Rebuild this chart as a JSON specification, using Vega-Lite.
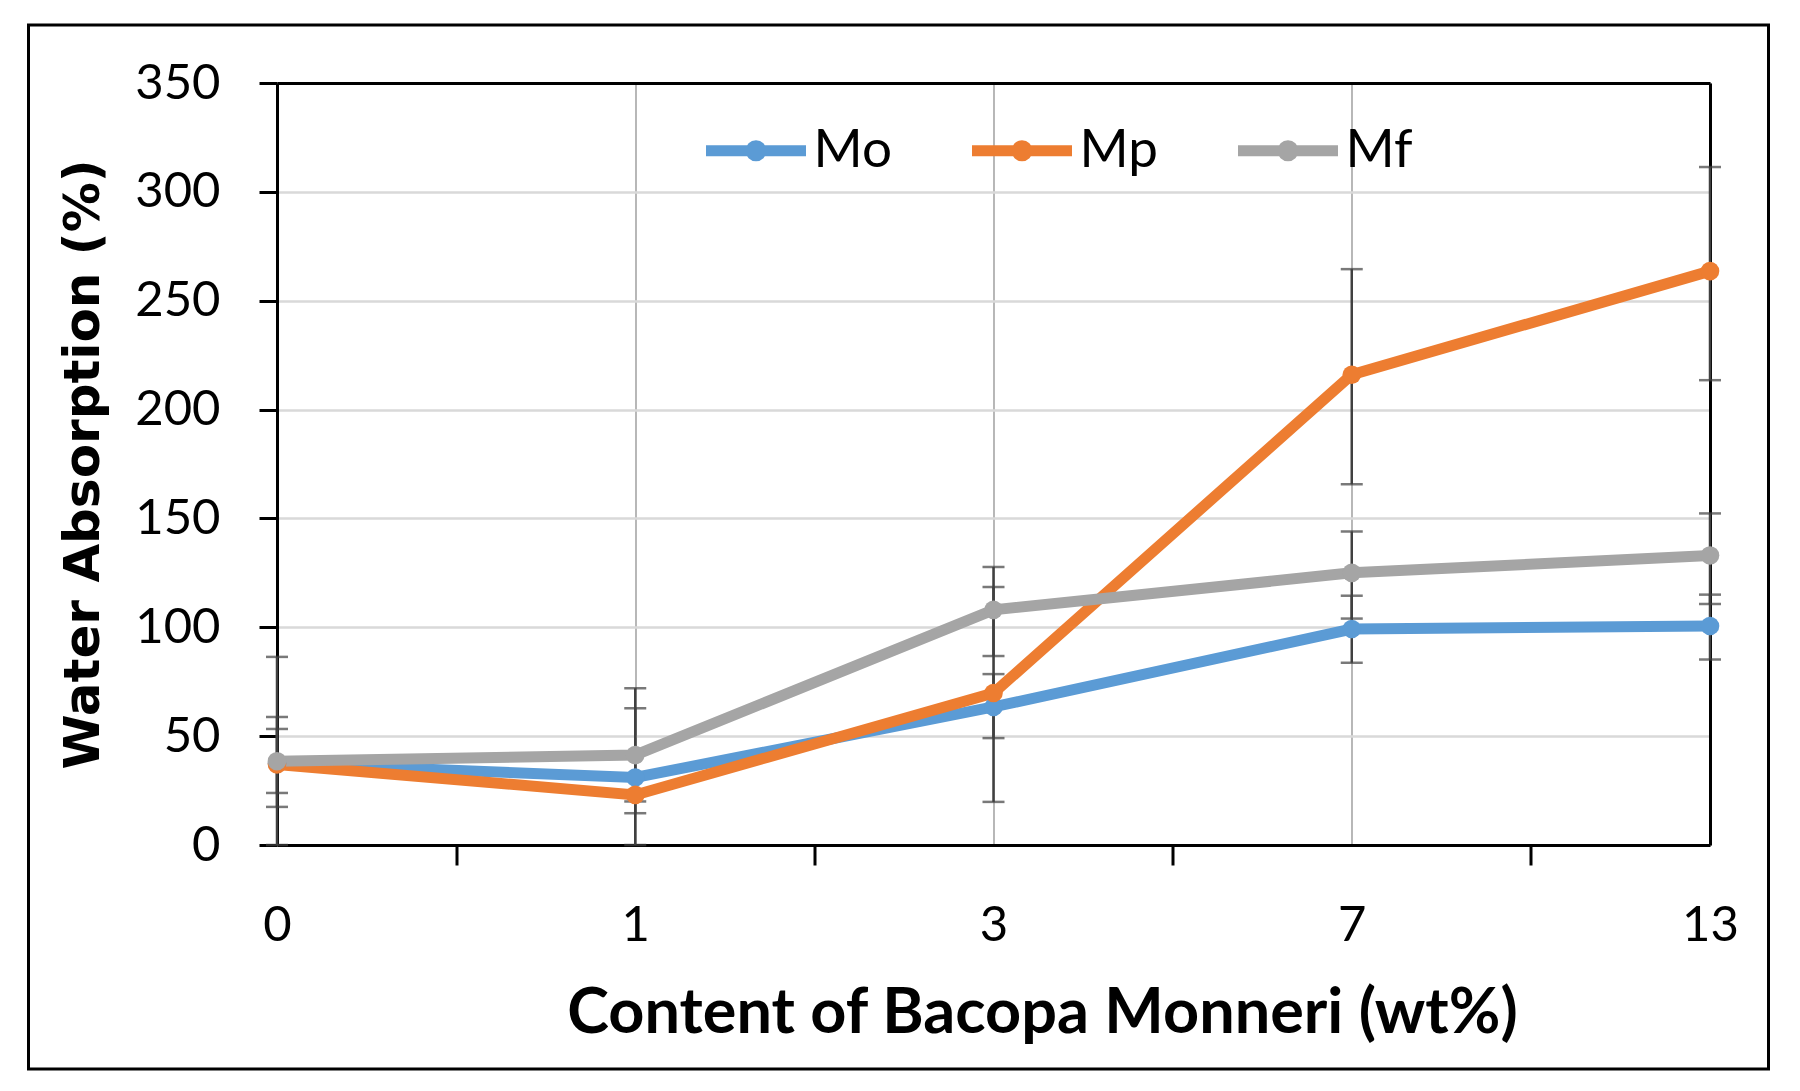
{
  "$schema": "https://vega.github.io/schema/vega-lite/v6.json",
  "width": 1740,
  "height": 1044,
  "autosize": {"type": "none"},
  "padding": {"left": 28.5, "top": 25, "right": 31.5, "bottom": 22},
  "background": "white",
  "config": {
    "view": {"stroke": "#000", "strokeWidth": 3},
    "axis": {"labelFont": "Lato", "labelFontSize": 49, "labelColor": "#000", "titleColor": "#000"}
  },
  "data": {
    "values": [
      {"series": "Mo", "wt": "0", "value": 37.5, "hi": 53.3, "lo": 23.9},
      {"series": "Mo", "wt": "1", "value": 31, "hi": 72, "lo": 0},
      {"series": "Mo", "wt": "3", "value": 63.4, "hi": 78.5, "lo": 49.1},
      {"series": "Mo", "wt": "7", "value": 99.2, "hi": 114.5, "lo": 83.7},
      {"series": "Mo", "wt": "13", "value": 100.6, "hi": 115, "lo": 85.2},
      {"series": "Mp", "wt": "0", "value": 37, "hi": 58.8, "lo": 17.5},
      {"series": "Mp", "wt": "1", "value": 23, "hi": 31.5, "lo": 14.6},
      {"series": "Mp", "wt": "3", "value": 69.8, "hi": 118.5, "lo": 19.8},
      {"series": "Mp", "wt": "7", "value": 216, "hi": 264.5, "lo": 165.7},
      {"series": "Mp", "wt": "13", "value": 263.6, "hi": 311.4, "lo": 213.5},
      {"series": "Mf", "wt": "0", "value": 38.5, "hi": 86.4, "lo": 0},
      {"series": "Mf", "wt": "1", "value": 41.3, "hi": 62.8, "lo": 20},
      {"series": "Mf", "wt": "3", "value": 108, "hi": 127.7, "lo": 86.8},
      {"series": "Mf", "wt": "7", "value": 125, "hi": 144, "lo": 104},
      {"series": "Mf", "wt": "13", "value": 133, "hi": 152.3, "lo": 110.7}
    ]
  },
  "resolve": {
    "scale": {"x": "shared", "y": "shared"},
    "axis": {"x": "independent", "y": "independent"}
  },
  "layer": [
    {
      "mark": {"type": "rule", "color": "#404040", "strokeWidth": 2.5},
      "encoding": {
        "x": {
          "field": "wt", "type": "ordinal",
          "scale": {"type": "point", "domain": ["0", "1", "3", "7", "13"], "range": [248.5, 1681.5], "padding": 0},
          "axis": {
            "title": "Content of Bacopa Monneri (wt%)", "orient": "bottom", "offset": -224,
            "labelAngle": 0, "ticks": false, "labelPadding": 56, "grid": false,
            "domainColor": "#000", "domainWidth": 3,
            "titleFont": "Lato", "titleFontSize": 63, "titleFontWeight": "bold",
            "titleX": 1013.5, "titleY": 187, "titleBaseline": "alphabetic"
          }
        },
        "y": {
          "field": "lo", "type": "quantitative",
          "scale": {"domain": [0, 350], "range": [820, 58], "nice": false},
          "axis": {
            "title": "Water Absorption (%)", "orient": "left", "offset": -248.5,
            "values": [0, 50, 100, 150, 200, 250, 300, 350],
            "tickSize": 18, "tickWidth": 3, "tickColor": "#000",
            "domainColor": "#000", "domainWidth": 3, "labelPadding": 39,
            "grid": true, "gridColor": "#d9d9d9", "gridWidth": 2.3,
            "titleFont": "DejaVu Sans", "titleFontSize": 50, "titleFontWeight": "bold", "titlePadding": 26
          }
        },
        "y2": {"field": "hi"}
      }
    },
    {
      "mark": {"type": "tick", "color": "#404040", "thickness": 2.5, "size": 22},
      "encoding": {
        "x": {
          "field": "wt", "type": "ordinal",
          "axis": {"orient": "top", "offset": -58, "labels": false, "ticks": false, "title": null, "domainColor": "#000", "domainWidth": 3, "grid": true, "gridColor": "#a6a6a6", "gridWidth": 1.6}
        },
        "y": {"field": "lo", "type": "quantitative", "axis": null}
      }
    },
    {
      "mark": {"type": "tick", "color": "#404040", "thickness": 2.5, "size": 22},
      "encoding": {
        "x": {"field": "wt", "type": "ordinal", "axis": null},
        "y": {"field": "hi", "type": "quantitative", "axis": null}
      }
    },
    {
      "mark": {"type": "line", "strokeWidth": 11},
      "encoding": {
        "x": {"field": "wt", "type": "ordinal", "axis": null},
        "y": {
          "field": "value", "type": "quantitative",
          "axis": {"orient": "right", "offset": -58.5, "labels": false, "ticks": false, "grid": false, "title": null, "domainColor": "#000", "domainWidth": 3}
        },
        "color": {
          "field": "series", "type": "nominal",
          "scale": {"domain": ["Mo", "Mp", "Mf"], "range": ["#5b9bd5", "#ed7d31", "#a5a5a5"]},
          "legend": {
            "orient": "none", "legendX": 672, "legendY": 70, "direction": "horizontal", "title": null,
            "symbolType": "M-1,0H1M0.1,0A0.1,0.1 0 1,1 -0.1,0A0.1,0.1 0 1,1 0.1,0",
            "symbolSize": 10000, "symbolStrokeWidth": 11, "symbolOpacity": 1,
            "labelFont": "Lato", "labelFontSize": 53, "labelColor": "#000", "labelOffset": 2,
            "columnPadding": 57, "padding": 0
          }
        }
      }
    },
    {
      "mark": {"type": "circle", "size": 346, "opacity": 1},
      "encoding": {
        "x": {
          "field": "wt", "type": "ordinal",
          "axis": {"orient": "bottom", "offset": -224, "labels": false, "domain": false, "grid": false, "ticks": true, "tickOffset": 179.1, "tickSize": 20, "tickWidth": 3, "tickColor": "#000", "title": null}
        },
        "y": {"field": "value", "type": "quantitative", "axis": null},
        "color": {"field": "series", "type": "nominal", "legend": null}
      }
    }
  ]
}
